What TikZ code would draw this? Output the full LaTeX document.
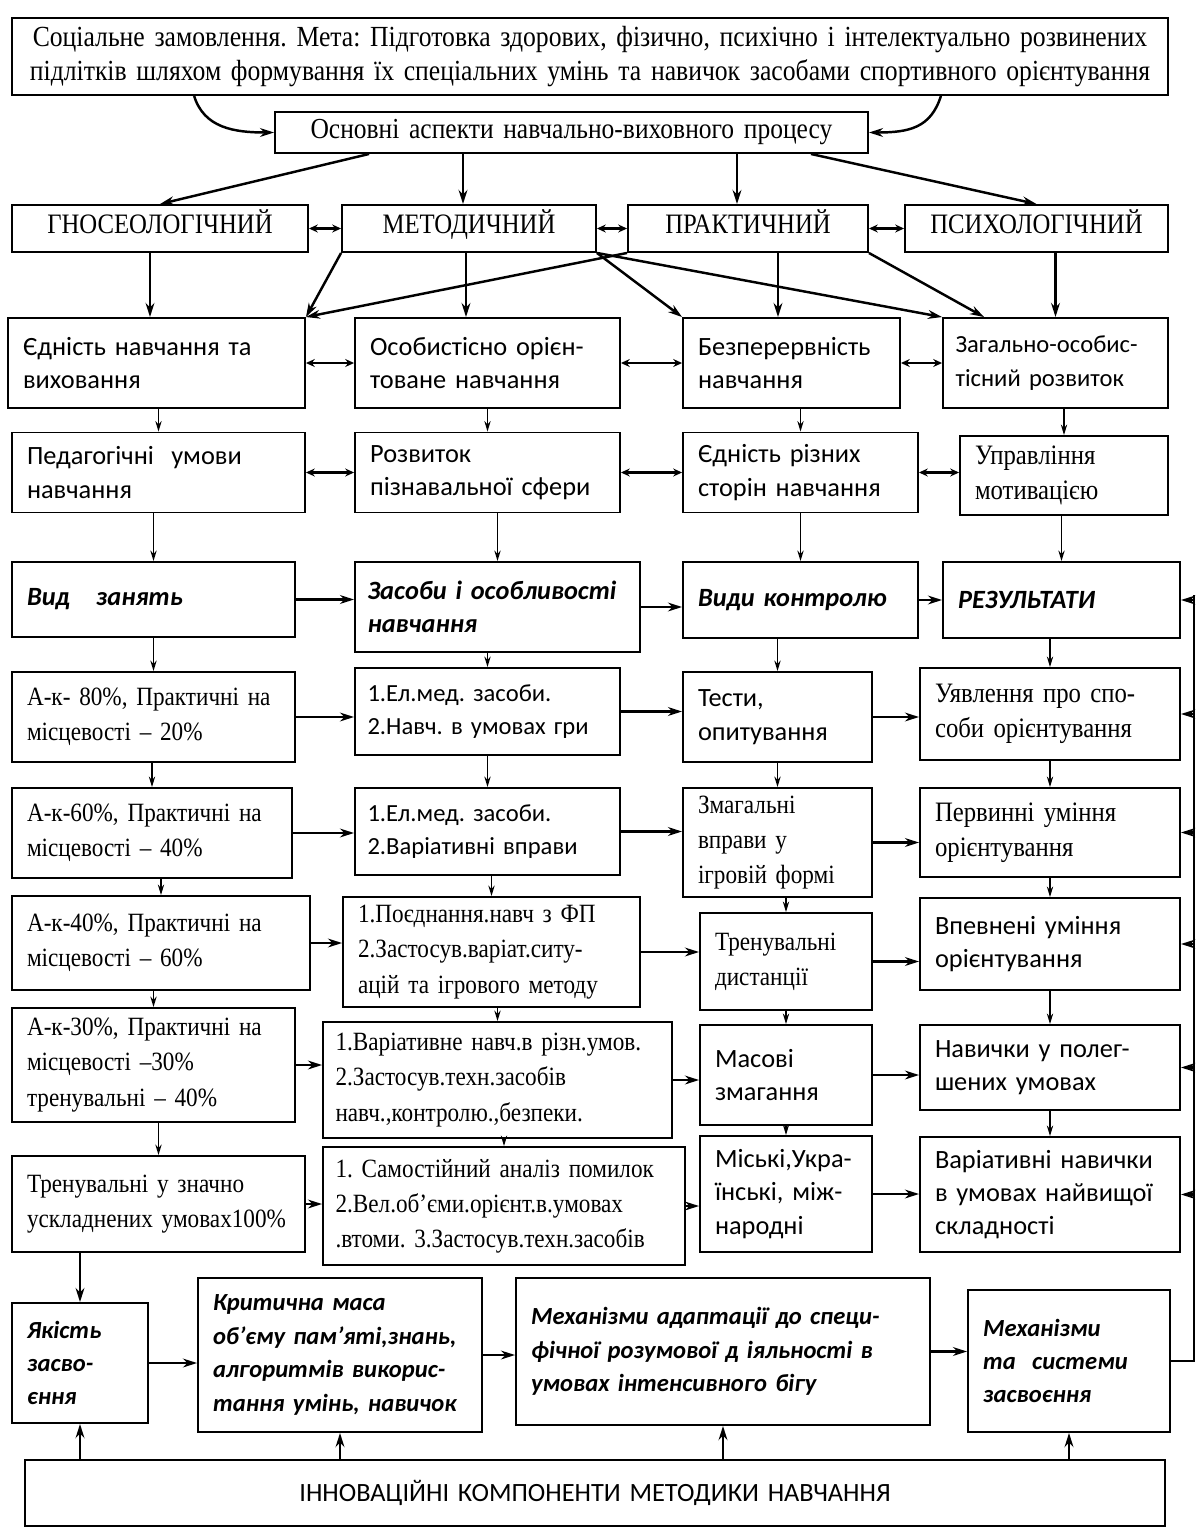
\documentclass[tikz,border=0pt]{standalone}
\usepackage{fontspec}
\setmainfont{Liberation Serif}
\setsansfont{Carlito}
\newfontfamily\narrowserif{Liberation Serif}[FakeStretch=0.88]
\usetikzlibrary{arrows.meta, positioning, calc}
\frenchspacing

\begin{document}
\begin{tikzpicture}[x=0.02cm, y=-0.02cm,
    cell/.style={draw, line width=1.1pt, inner xsep=0.3cm, inner ysep=0pt, align=left},
    ser/.style={font=\narrowserif\fontsize{15}{20}\selectfont},
    serbig/.style={font=\narrowserif\fontsize{16}{20}\selectfont},
    caps/.style={font=\narrowserif\fontsize{16}{19}\selectfont, align=center, text height=1.6ex, text depth=0.3ex},
    san/.style={font=\sffamily\fontsize{15}{19}\selectfont},
    sansmall/.style={font=\sffamily\fontsize{14}{19}\selectfont},
    accent/.style={font=\sffamily\bfseries\itshape\fontsize{15}{19}\selectfont},
    accentsmall/.style={font=\sffamily\bfseries\itshape\fontsize{14}{19}\selectfont},
    arrow/.style={-{Stealth[length=8pt,width=5pt]}, line width=1.4pt},
    link/.style={-{Stealth[length=6pt,width=3.6pt]}, line width=0.8pt},
    pair/.style={{Stealth[length=5pt,width=4.5pt]}-{Stealth[length=5pt,width=4.5pt]}, line width=1.4pt}
]
\useasboundingbox (0,0) rectangle (1197,1528);
% goal and aspects
\node[cell, font=\narrowserif\fontsize{16.6}{19}\selectfont, align=center, text width=22.52cm, minimum height=1.54cm] (goal) at (590,56.5)
    {Соціальне замовлення. Мета: Підготовка здорових, фізично, психічно і інтелектуально розвинених\\підлітків шляхом формування їх спеціальних умінь та навичок засобами спортивного орієнтування};
\node[cell, font=\narrowserif\fontsize{16.5}{19}\selectfont, align=center, text width=11.26cm, minimum height=0.82cm] (asp) at (571.5,132.5)
    {Основні аспекти навчально-виховного процесу};
% aspects row
\node[cell, caps, text width=5.32cm, minimum height=0.94cm] (g1) at (160,228.5) {ГНОСЕОЛОГІЧНИЙ};
\node[cell, caps, text width=4.48cm, minimum height=0.94cm] (g2) at (469,228.5) {МЕТОДИЧНИЙ};
\node[cell, caps, text width=4.2cm, minimum height=0.94cm] (g3) at (748,228.5) {ПРАКТИЧНИЙ};
\node[cell, caps, text width=4.66cm, minimum height=0.94cm] (g4) at (1036.5,228.5) {ПСИХОЛОГІЧНИЙ};
% principles row
\node[cell, san, text width=5.34cm, minimum height=1.8cm] (p1) at (156.5,363) {Єдність навчання та\\виховання};
\node[cell, san, text width=4.7cm, minimum height=1.8cm] (p2) at (487.5,363) {Особистісно орієн-\\товане навчання};
\node[cell, san, text width=3.74cm, minimum height=1.8cm] (p3) at (791.5,363) {Безперервність\\навчання};
\node[cell, sansmall, inner xsep=0.25cm, text width=4.0cm, minimum height=1.8cm] (p4) at (1055.5,363) {Загально-особис-\\тісний розвиток};
% conditions row
\node[cell, san, text width=5.26cm, minimum height=1.6cm] (q1) at (158.5,472.5) {Педагогічні \ умови\\навчання};
\node[cell, san, text width=4.7cm, minimum height=1.6cm] (q2) at (487.5,472.5) {Розвиток\\пізнавальної сфери};
\node[cell, san, text width=4.1cm, minimum height=1.6cm] (q3) at (800.5,472.5) {Єдність різних\\сторін навчання};
\node[cell, serbig, text width=3.56cm, minimum height=1.58cm] (q4) at (1064,475.5) {Управління\\мотивацією};
% headings row
\node[cell, accent, text width=5.06cm, minimum height=1.5cm] (r1) at (153.5,599.5) {Вид \ \ занять\\[0.5em]};
\node[cell, accent, inner xsep=0.25cm, text width=5.2cm, minimum height=1.8cm] (r2) at (497.5,607) {Засоби і особливості\\навчання};
\node[cell, accent, text width=4.1cm, minimum height=1.52cm] (r3) at (800.5,600) {Види контролю\\[0.5em]};
\node[cell, accent, text width=4.14cm, minimum height=1.52cm] (r4) at (1061.5,600) {РЕЗУЛЬТАТИ\\[0.5em]};
% kinds of classes
\node[cell, ser, text width=5.06cm, minimum height=1.8cm] (a1) at (153.5,717) {А-к- 80\%, Практичні на\\місцевості – 20\%};
\node[cell, ser, text width=5.0cm, minimum height=1.8cm] (a2) at (152,833) {А-к-60\%, Практичні на\\місцевості – 40\%};
\node[cell, ser, text width=5.36cm, minimum height=1.88cm] (a3) at (161,943) {А-к-40\%, Практичні на\\місцевості – 60\%};
\node[cell, ser, text width=5.06cm, minimum height=2.28cm] (a4) at (153.5,1065) {А-к-30\%, Практичні на\\місцевості –30\%\\тренувальні – 40\%};
\node[cell, ser, text width=5.26cm, minimum height=1.92cm] (a5) at (158.5,1204) {Тренувальні у значно\\ускладнених умовах100\%};
% means
\node[cell, sansmall, inner xsep=0.25cm, text width=4.8cm, minimum height=1.74cm] (b1) at (487.5,711.5) {1.Ел.мед. засоби.\\2.Навч. в умовах гри};
\node[cell, sansmall, inner xsep=0.25cm, text width=4.8cm, minimum height=1.74cm] (b2) at (487.5,831.5) {1.Ел.мед. засоби.\\2.Варіативні вправи};
\node[cell, ser, text width=5.34cm, minimum height=2.2cm] (b3) at (491.5,952) {1.Поєднання.навч з ФП\\2.Застосув.варіат.ситу-\\ацій та ігрового методу};
\node[cell, ser, inner xsep=0.25cm, text width=6.48cm, minimum height=2.32cm] (b4) at (497.5,1080) {1.Варіативне навч.в різн.умов.\\2.Застосув.техн.засобів\\навч.,контролю.,безпеки.};
\node[cell, ser, inner xsep=0.25cm, text width=6.74cm, minimum height=2.36cm] (b5) at (504,1206) {1. Самостійний аналіз помилок\\2.Вел.об’єми.орієнт.в.умовах\\.втоми. 3.Застосув.техн.засобів};
% control
\node[cell, san, text width=3.18cm, minimum height=1.8cm] (c1) at (777.5,717) {Тести,\\опитування};
\node[cell, ser, text width=3.18cm, minimum height=2.18cm] (c2) at (777.5,842.5) {Змагальні\\вправи у\\ігровій формі};
\node[cell, ser, text width=2.84cm, minimum height=1.94cm] (c3) at (786,961.5) {Тренувальні\\дистанції};
\node[cell, san, text width=2.84cm, minimum height=2.0cm] (c4) at (786,1075) {Масові\\змагання};
\node[cell, san, text width=2.84cm, minimum height=2.32cm] (c5) at (786,1194) {Міські,Укра-\\їнські, між-\\народні};
% results
\node[cell, serbig, text width=4.6cm, minimum height=1.84cm] (e1) at (1050,714) {Уявлення про спо-\\соби орієнтування};
\node[cell, serbig, text width=4.6cm, minimum height=1.78cm] (e2) at (1050,832.5) {Первинні уміння\\орієнтування};
\node[cell, san, text width=4.6cm, minimum height=1.84cm] (e3) at (1050,944) {Впевнені уміння\\орієнтування};
\node[cell, san, text width=4.6cm, minimum height=1.7cm] (e4) at (1050,1067.5) {Навички у полег-\\шених умовах};
\node[cell, san, text width=4.6cm, minimum height=2.3cm] (e5) at (1050,1194.5) {Варіативні навички\\в умовах найвищої\\складності};
% mastering row
\node[cell, accentsmall, text width=2.12cm, minimum height=2.4cm] (f1) at (80,1363) {Якість\\засво-\\єння};
\node[cell, accentsmall, text width=5.08cm, minimum height=3.08cm] (f2) at (340,1355) {Критична маса\\об’єму пам’яті,знань,\\алгоритмів викорис-\\тання умінь, навичок};
\node[cell, accentsmall, text width=7.68cm, minimum height=2.94cm] (f3) at (723,1351.5) {Механізми адаптації до специ-\\фічної розумової д іяльності в\\умовах інтенсивного бігу};
\node[cell, accentsmall, text width=3.44cm, minimum height=2.84cm] (f4) at (1069,1361) {Механізми\\та \ системи\\засвоєння};
\node[cell, san, align=center, text width=22.2cm, minimum height=1.32cm] (inn) at (595,1493) {ІННОВАЦІЙНІ КОМПОНЕНТИ МЕТОДИКИ НАВЧАННЯ};
% arrows from the goal
\draw[arrow] ([xshift=3.66cm]goal.south west) .. controls +(10,32) and +(-40,0) .. (asp.west);
\draw[arrow] ([xshift=-4.56cm]goal.south east) .. controls +(-10,32) and +(40,0) .. (asp.east);
\draw[arrow] ([xshift=1.9cm]asp.south west) -- (g1.north);
\draw[arrow] ([xshift=-0.12cm]g2.north |- asp.south) -- ([xshift=-0.12cm]g2.north);
\draw[arrow] ([xshift=-0.22cm]g3.north |- asp.south) -- ([xshift=-0.22cm]g3.north);
\draw[arrow] ([xshift=-1.16cm]asp.south east) -- (g4.north);
\foreach \l/\r in {g1/g2,g2/g3,g3/g4,p1/p2,p2/p3,p3/p4,q1/q2,q2/q3,q3/q4} \draw[pair] (\l.east) -- (\l.east -| \r.west);
% aspects to principles
\draw[arrow] ([xshift=-0.2cm]g1.south) -- ([xshift=-0.2cm]g1.south |- p1.north);
\draw[arrow] ([xshift=-0.06cm]g2.south) -- ([xshift=-0.06cm]g2.south |- p2.north);
\draw[arrow] (g2.south west) -- (p1.north east);
\draw[arrow] (g2.south east) -- (p3.north west);
\draw[arrow] (g2.south east) -- (p4.north west);
\draw[arrow] (g3.south west) -- (p1.north east);
\draw[arrow] ([xshift=0.6cm]g3.south) -- ([xshift=0.6cm]g3.south |- p3.north);
\draw[arrow] (g3.south east) -- ([xshift=0.84cm]p4.north west);
\draw[arrow] (g4.south -| p4.north) -- (p4.north);
% vertical chains
\foreach \u/\d in {p1/q1,p2/q2,p3/q3,p4/q4,q1/r1,q2/r2,q3/r3,q4/r4,r1/a1,r2/b1,r3/c1,r4/e1,
    a1/a2,a2/a3,a3/a4,a4/a5,b1/b2,b2/b3,b3/b4,b4/b5,c1/c2,c2/c3,c3/c4,c4/c5,e1/e2,e2/e3,e3/e4,e4/e5}
    \draw[link] (\d.north |- \u.south) -- (\d.north);
% horizontal chains
\foreach \l/\r in {r1/r2,r2/r3,r3/r4,a1/b1,b1/c1,c1/e1,a2/b2,b2/c2,c2/e2,a3/b3,b3/c3,c3/e3,
    a4/b4,b4/c4,c4/e4,a5/b5,b5/c5,c5/e5,f1/f2,f2/f3,f3/f4}
    \draw[arrow] (\l.east) -- (\l.east -| \r.west);
\draw[arrow] (f1.north |- a5.south) -- (f1.north);
% feedback rail
\coordinate (rail) at (1194,595);
\draw[line width=1.1pt] (f4.east) -| (rail);
\foreach \n in {r4,e1,e2,e3,e4,e5} \draw[arrow] (\n.east -| rail) -- (\n.east);
% innovations
\foreach \n in {f1,f2,f3,f4} \draw[arrow] (\n.south |- inn.north) -- (\n.south);
\end{tikzpicture}
\end{document}
